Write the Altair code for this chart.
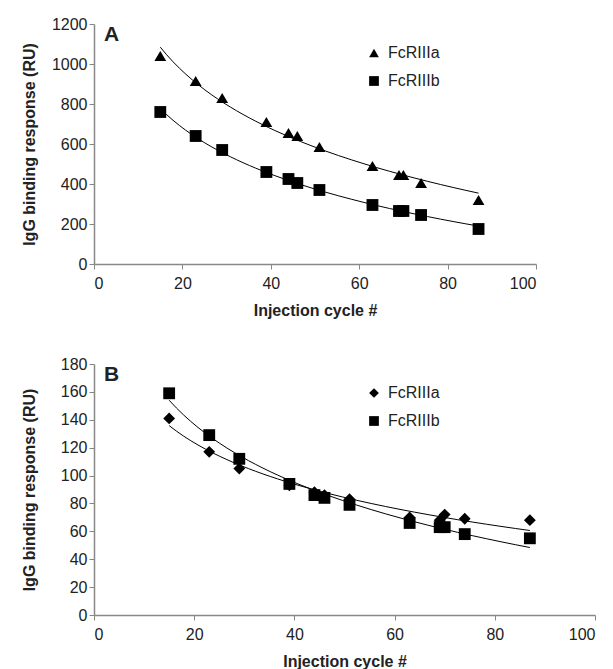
import altair as alt
import pandas as pd

cycles = [15, 23, 29, 39, 44, 46, 51, 63, 69, 70, 74, 87]
series_names = ["FcRIIIa", "FcRIIIb"]

# Panel A values (RU)
a_fcriiia = [1040, 915, 830, 710, 655, 640, 585, 490, 445, 445, 405, 320]
a_fcriiib = [760, 640, 570, 460, 425, 405, 370, 295, 265, 265, 245, 175]

# Panel B values (RU)
b_fcriiia = [141, 117, 105, 93, 88, 86, 83, 70, 68, 72, 69, 68]
b_fcriiib = [159, 129, 112, 94, 86, 84, 79, 66, 63, 63, 58, 55]

FONT = "Liberation Sans"


def make_df(v1, v2):
    rows = []
    for c, v in zip(cycles, v1):
        rows.append({"cycle": c, "value": v, "series": series_names[0]})
    for c, v in zip(cycles, v2):
        rows.append({"cycle": c, "value": v, "series": series_names[1]})
    return pd.DataFrame(rows)


def panel(df, ymax, ystep, shapes, size, width, height, letter):
    x = alt.X("cycle:Q", title="Injection cycle #",
              scale=alt.Scale(domain=[0, 100], nice=False),
              axis=alt.Axis(values=[0, 20, 40, 60, 80, 100], grid=False,
                            labelPadding=6, titlePadding=11))
    y = alt.Y("value:Q", title="IgG binding response (RU)",
              scale=alt.Scale(domain=[0, ymax], nice=False),
              axis=alt.Axis(values=list(range(0, ymax + 1, ystep)), grid=False,
                            format="d",
                            minExtent=47, maxExtent=47, titlePadding=10))
    base = alt.Chart(df)
    lines = base.transform_regression(
        "cycle", "value", method="log", groupby=["series"], extent=[15, 87]
    ).mark_line(color="black", strokeWidth=1).encode(
        x=x, y=y, detail="series:N"
    )
    pts = base.mark_point(filled=True, color="black", opacity=1,
                          size=size).encode(
        x=x, y=y,
        shape=alt.Shape("series:N",
                        scale=alt.Scale(domain=series_names, range=shapes),
                        legend=alt.Legend(title=None, orient="none",
                                          legendX=272, legendY=21,
                                          symbolSize=95, rowPadding=12,
                                          labelFontSize=16, labelFont=FONT,
                                          labelColor="#222", labelOffset=6,
                                          symbolFillColor="black",
                                          symbolStrokeColor="black")),
    )
    label = alt.Chart(pd.DataFrame({"t": [letter]})).mark_text(
        align="left", baseline="alphabetic", fontSize=21, fontWeight="bold",
        font=FONT, color="#222"
    ).encode(text="t:N", x=alt.value(10), y=alt.value(17))
    return alt.layer(lines, pts, label).properties(width=width, height=height)


chart_a = panel(make_df(a_fcriiia, a_fcriiib), 1200, 200,
                ["triangle-up", "square"], 140, 442, 240, "A")
chart_b = panel(make_df(b_fcriiia, b_fcriiib), 180, 20,
                ["diamond", "square"], 140, 501, 251, "B")

chart = alt.vconcat(chart_a, chart_b, spacing=38).resolve_scale(
    shape="independent"
).resolve_legend(shape="independent").properties(
    padding={"left": 13, "top": 8, "right": 0, "bottom": 0}
).configure_view(stroke=None).configure_axis(
    labelFont=FONT, titleFont=FONT, labelFontSize=16, titleFontSize=16,
    titleFontWeight="bold", labelColor="#222", titleColor="#222",
    domainColor="#888", tickColor="#888", tickSize=5, domainWidth=1.5
)

chart.save("out.html", embed_options={"renderer": "svg", "actions": False})
